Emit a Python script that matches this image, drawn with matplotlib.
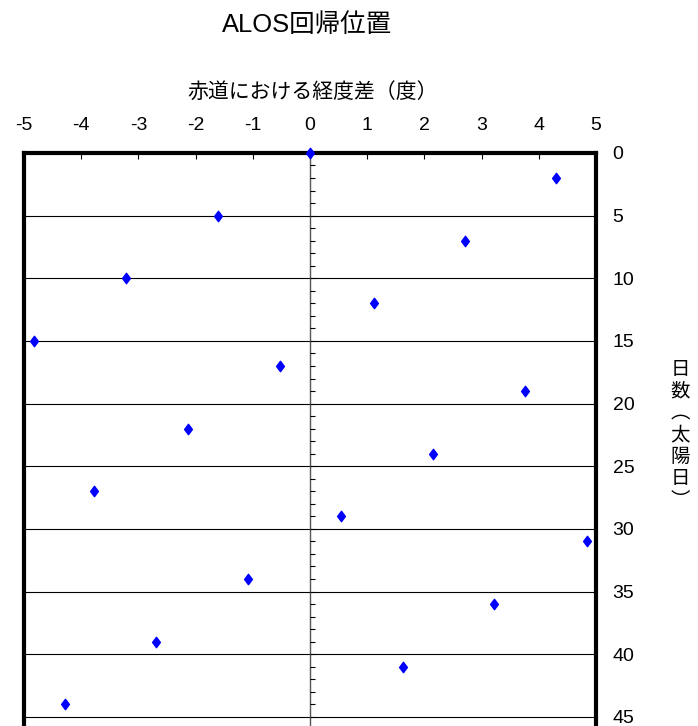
import matplotlib
matplotlib.use("Agg")
import matplotlib.pyplot as plt
import numpy as np
from matplotlib.path import Path

plt.rcParams['font.family'] = ['Liberation Sans', 'Noto Sans CJK JP']

# ALOS recurrence: day number vs. longitude offset at the equator (deg)
days = [0, 2, 5, 7, 10, 12, 15, 17, 19, 22, 24, 27, 29, 31, 34, 36, 39, 41, 44]
lon_diff = [0.0, 4.30, -1.61, 2.71, -3.22, 1.11, -4.83, -0.52, 3.76, -2.13,
            2.15, -3.77, 0.54, 4.85, -1.08, 3.22, -2.69, 1.62, -4.28]

x_ticks = list(range(-5, 6))
y_ticks = list(range(0, 50, 5))

title = "ALOS回帰位置"
x_label = "赤道における経度差（度）"
# vertical (stacked) axis title, vertical-form parentheses
y_label_chars = ["日", "数", "︵", "太", "陽", "日", "︶"]

fig = plt.figure(figsize=(6.98, 7.26), dpi=100)
ax = fig.add_axes([0.0344, -0.0737, 0.8195, 0.8630])

# slightly tall diamond marker, like the Excel one
diamond = Path([(0, 1), (0.75, 0), (0, -1), (-0.75, 0), (0, 1)],
               [Path.MOVETO, Path.LINETO, Path.LINETO, Path.LINETO, Path.CLOSEPOLY])
ax.plot(lon_diff, days, linestyle='none', marker=diamond, markersize=7.5,
        color='#0000ff', clip_on=False, zorder=5)

ax.set_xlim(-5, 5)
ax.set_ylim(50, 0)

# horizontal grid every 5 days
for d in y_ticks[1:]:
    ax.axhline(d, color='black', linewidth=0.8, zorder=1)

# center line at 0 deg with day ticks
ax.axvline(0, color='#555555', linewidth=1.0, zorder=2)
ax.hlines(np.arange(1, 50), 0, 0.09, color='black', linewidth=0.8, zorder=2)

ax.xaxis.tick_top()
ax.set_xticks(x_ticks)
ax.set_xticklabels([str(v) for v in x_ticks])
ax.tick_params(axis='x', direction='in', length=4, width=0.8, pad=14, labelsize=14)

ax.yaxis.tick_right()
ax.set_yticks(y_ticks)
ax.tick_params(axis='y', length=0, pad=12, labelsize=14)

for side in ['left', 'top', 'right']:
    ax.spines[side].set_linewidth(3)
ax.spines['bottom'].set_visible(False)

ax.xaxis.set_label_position('top')
ax.set_xlabel(x_label, fontsize=15)
ax.xaxis.set_label_coords(0.505, 1.097)
ax.xaxis.label.set_va('center')

fig.text(307 / 698, 1 - 25 / 726, title, fontsize=18.4, ha='center', va='center')
fig.text(680 / 698, 1 - 435 / 726, "\n".join(y_label_chars), fontsize=14,
         family='Noto Sans CJK JP', linespacing=1.05, ha='center', va='center',
         multialignment='center')

fig.savefig("out.png", dpi=100)
